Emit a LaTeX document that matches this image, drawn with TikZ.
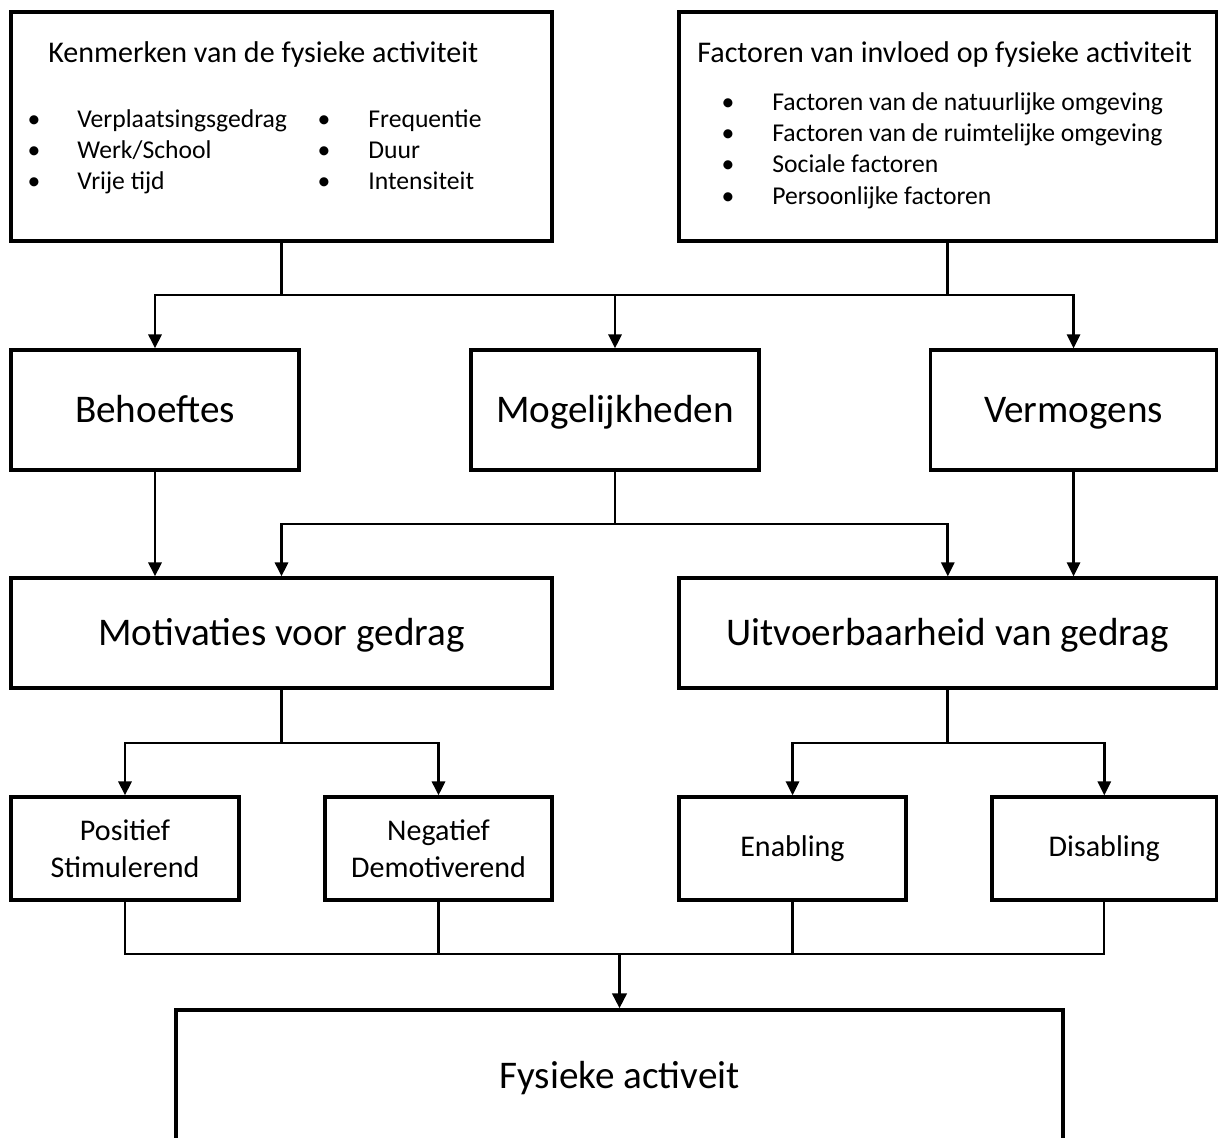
\documentclass[tikz,border=0pt]{standalone}
\usepackage{fontspec}
\setmainfont{Carlito}
\usetikzlibrary{arrows.meta}
\newcommand{\bigtxt}{\fontsize{22.3pt}{26pt}\selectfont}
\newcommand{\medtxt}{\fontsize{17.1pt}{21.1pt}\selectfont}
\newcommand{\itemtxt}{\fontsize{14.6pt}{17.6pt}\selectfont}

\begin{document}
\begin{tikzpicture}
%% 1 px of the original figure = 0.02 cm, y runs downwards
%% the bottom box runs over the lower edge of the page, so it is clipped
\useasboundingbox (0,0) rectangle (24.36,-22.74);
\clip (0,0) rectangle (24.36,-22.74);
\tikzstyle{box}=[draw,line width=1.8pt,inner sep=0pt,align=center]
\tikzstyle{bigbox}=[box,font=\bigtxt,text height=17pt,text depth=3.3pt]
\tikzstyle{smallbox}=[box,font=\medtxt]
\tikzstyle{txt}=[inner sep=0pt,anchor=base west]
\tikzstyle{bulletmark}=[inner sep=0pt,anchor=base,font=\itemtxt]
\tikzstyle{conn}=[line width=1.6pt]
\tikzstyle{arc}=[conn,-{Triangle[length=0.28cm,width=0.26cm]}]
\tikzstyle{thinLine}=[line width=1.3pt]
\tikzstyle{mainArc}=[line width=2.2pt,-{Triangle[length=0.3cm,width=0.28cm]}]
%% levels of the horizontal connector lines
\coordinate (j1) at (0,-5.9);
\coordinate (j2) at (0,-10.48);
\coordinate (j3) at (0,-14.86);
\coordinate (j4) at (0,-19.08);
%% top row %%
\node[box,minimum width=10.82cm,minimum height=4.58cm] at (5.63,-2.53) (ken) {};
%% text of box ken
\node[txt,font=\medtxt] at (0.96,-1.24) (kenTitle) {Kenmerken van de fysieke activiteit};
\node[bulletmark] at (0.68,-2.54) (kenB1) {\textbullet};
\node[bulletmark] at (0.68,-3.16) (kenB2) {\textbullet};
\node[bulletmark] at (0.68,-3.78) (kenB3) {\textbullet};
\node[txt,font=\itemtxt] at (1.54,-2.54) (kenI1) {Verplaatsingsgedrag};
\node[txt,font=\itemtxt] at (1.54,-3.16) (kenI2) {Werk/School};
\node[txt,font=\itemtxt] at (1.54,-3.78) (kenI3) {Vrije tijd};
\node[bulletmark] at (6.48,-2.54) (kenB4) {\textbullet};
\node[bulletmark] at (6.48,-3.16) (kenB5) {\textbullet};
\node[bulletmark] at (6.48,-3.78) (kenB6) {\textbullet};
\node[txt,font=\itemtxt] at (7.36,-2.54) (kenI4) {Frequentie};
\node[txt,font=\itemtxt] at (7.36,-3.16) (kenI5) {Duur};
\node[txt,font=\itemtxt] at (7.36,-3.78) (kenI6) {Intensiteit};
\node[box,minimum width=10.75cm,minimum height=4.58cm] at (18.955,-2.53) (fac) {};
%% text of box fac
\node[txt,font=\medtxt] at (13.94,-1.24) (facTitle) {Factoren van invloed op fysieke activiteit};
\node[bulletmark] at (14.56,-2.20) (facB1) {\textbullet};
\node[bulletmark] at (14.56,-2.82) (facB2) {\textbullet};
\node[bulletmark] at (14.56,-3.44) (facB3) {\textbullet};
\node[bulletmark] at (14.56,-4.08) (facB4) {\textbullet};
\node[txt,font=\itemtxt] at (15.44,-2.20) (facI1) {Factoren van de natuurlijke omgeving};
\node[txt,font=\itemtxt] at (15.44,-2.82) (facI2) {Factoren van de ruimtelijke omgeving};
\node[txt,font=\itemtxt] at (15.44,-3.44) (facI3) {Sociale factoren};
\node[txt,font=\itemtxt] at (15.44,-4.08) (facI4) {Persoonlijke factoren};
%% second row %%
\node[bigbox,minimum width=5.76cm,minimum height=2.4cm] at (3.10,-8.2) (beh) {Behoeftes};
\node[bigbox,minimum width=5.76cm,minimum height=2.4cm] at (12.30,-8.2) (mog) {Mogelijkheden};
\node[bigbox,minimum width=5.72cm,minimum height=2.4cm] at (21.47,-8.2) (ver) {Vermogens};
%% third row %%
\node[bigbox,minimum width=10.82cm,minimum height=2.2cm] at (5.63,-12.66) (mot) {Motivaties voor gedrag};
\node[bigbox,minimum width=10.75cm,minimum height=2.2cm] at (18.955,-12.66) (uit) {Uitvoerbaarheid van gedrag};
%% fourth row %%
\node[smallbox,minimum width=4.56cm,minimum height=2.06cm] at (2.50,-16.97) (pos) {Positief\\Stimulerend};
\node[smallbox,minimum width=4.54cm,minimum height=2.06cm] at (8.77,-16.97) (neg) {Negatief\\Demotiverend};
\node[smallbox,minimum width=4.54cm,minimum height=2.06cm,text height=12pt,text depth=3pt] at (15.85,-16.97) (ena) {Enabling};
\node[smallbox,minimum width=4.49cm,minimum height=2.06cm,text height=12pt,text depth=3pt] at (22.085,-16.97) (dis) {Disabling};
%% bottom box %%
\node[bigbox,minimum width=17.74cm,minimum height=2.64cm] at (12.39,-21.52) (fys) {Fysieke activeit};
%% connectors %%
\draw[arc] (ken.south) |- (beh.north |- j1) -- (beh.north);
\draw[arc] (ken.south) |- (mog.north |- j1) -- (mog.north);
\draw[conn] (fac.south) |- (mog.north |- j1);
\draw[arc] (fac.south) |- (ver.north |- j1) -- (ver.north);
\draw[arc] (beh.south) -- (beh.south |- mot.north);
\draw[arc] (mog.south) |- (mot.north |- j2) -- (mot.north);
\draw[arc] (mog.south) |- (uit.north |- j2) -- (uit.north);
\draw[arc] (ver.south) -- (ver.south |- uit.north);
\draw[arc] (mot.south) |- (pos.north |- j3) -- (pos.north);
\draw[arc] (mot.south) |- (neg.north |- j3) -- (neg.north);
\draw[arc] (uit.south) |- (ena.north |- j3) -- (ena.north);
\draw[arc] (uit.south) |- (dis.north |- j3) -- (dis.north);
\draw[thinLine] (pos.south) |- (fys.north |- j4);
\draw[thinLine] (neg.south) |- (fys.north |- j4);
\draw[thinLine] (ena.south) |- (fys.north |- j4);
\draw[thinLine] (dis.south) |- (fys.north |- j4);
\draw[mainArc] (fys.north |- j4) -- (fys.north);
\end{tikzpicture}
\end{document}
